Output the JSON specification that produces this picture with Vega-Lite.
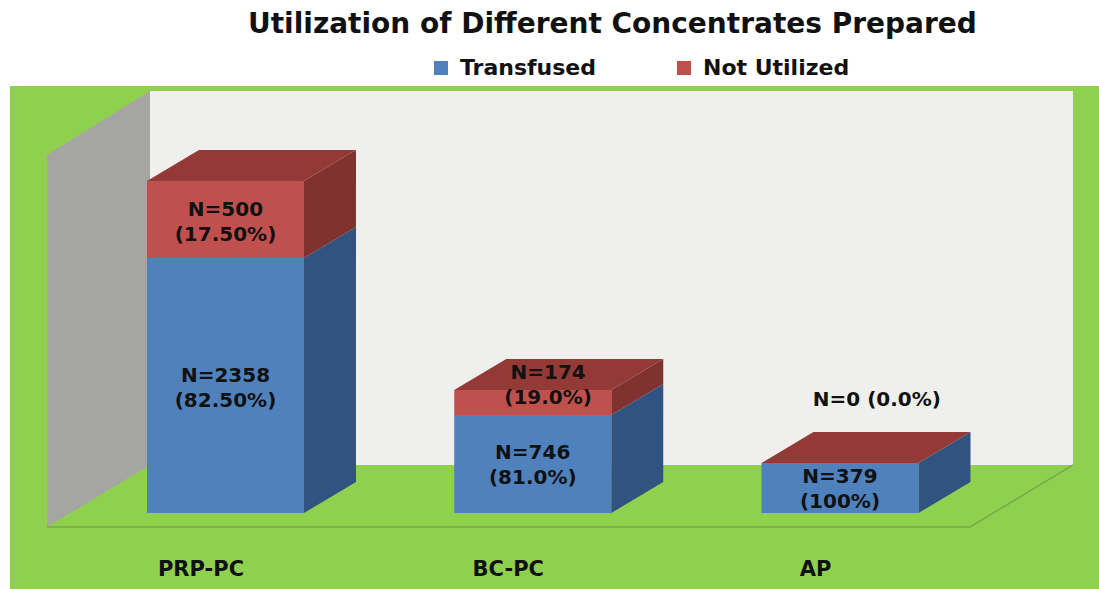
{
"$schema":"https://vega.github.io/schema/vega-lite/v6.json",
"width":1099,"height":589,"autosize":{"type":"none"},"padding":0,"background":"#ffffff",
"title":{"text":"Utilization of Different Concentrates Prepared","frame":"group","anchor":"start","orient":"top","dx":248,"offset":-39,"font":"DejaVu Sans","fontWeight":"bold","fontSize":28,"color":"#111111"},
"config":{"view":{"stroke":null}},
"datasets":{
"panel":[{"part":"background","x":0.2986,"x2":3.843,"y":-578,"y2":3245},{"part":"back wall","x":0.7543,"x2":3.7583,"y":365,"y2":3207}],
"wall":[{"x":0.419,"y":-106,"y2":2721},{"x":0.7543,"y":365,"y2":3207}],
"floor":[{"x":0.419,"y":-106},{"x":3.4235,"y":-106},{"x":3.7583,"y":365}],
"bars":[
{"cat":"PRP-PC","k":1,"series":"Transfused","x":0.7445,"x2":1.2555,"y":0,"y2":1938},
{"cat":"PRP-PC","k":1,"series":"Not Utilized","x":0.7445,"x2":1.2555,"y":1938,"y2":2523},
{"cat":"BC-PC","k":2,"series":"Transfused","x":1.7445,"x2":2.2555,"y":0,"y2":745},
{"cat":"BC-PC","k":2,"series":"Not Utilized","x":1.7445,"x2":2.2555,"y":745,"y2":935},
{"cat":"AP","k":3,"series":"Transfused","x":2.7445,"x2":3.2555,"y":0,"y2":380}
],
"sides":[
{"id":"PRP-T","series":"Transfused","x":1.2555,"y":0,"y2":1938},{"id":"PRP-T","series":"Transfused","x":1.4247,"y":236,"y2":2174},
{"id":"PRP-N","series":"Not Utilized","x":1.2555,"y":1938,"y2":2523},{"id":"PRP-N","series":"Not Utilized","x":1.4247,"y":2174,"y2":2759},
{"id":"BC-T","series":"Transfused","x":2.2555,"y":0,"y2":745},{"id":"BC-T","series":"Transfused","x":2.4247,"y":236,"y2":981},
{"id":"BC-N","series":"Not Utilized","x":2.2555,"y":745,"y2":935},{"id":"BC-N","series":"Not Utilized","x":2.4247,"y":981,"y2":1171},
{"id":"AP-T","series":"Transfused","x":3.2555,"y":0,"y2":380},{"id":"AP-T","series":"Transfused","x":3.4247,"y":236,"y2":616}
],
"tops":[
{"id":"PRP","x":0.7445,"y":2523,"y2":2523},{"id":"PRP","x":0.9137,"y":2759,"y2":2523},{"id":"PRP","x":1.2555,"y":2759,"y2":2523},{"id":"PRP","x":1.4247,"y":2759,"y2":2759},
{"id":"BC","x":1.7445,"y":935,"y2":935},{"id":"BC","x":1.9137,"y":1171,"y2":935},{"id":"BC","x":2.2555,"y":1171,"y2":935},{"id":"BC","x":2.4247,"y":1171,"y2":1171},
{"id":"AP","x":2.7445,"y":380,"y2":380},{"id":"AP","x":2.9137,"y":616,"y2":380},{"id":"AP","x":3.2555,"y":616,"y2":380},{"id":"AP","x":3.4247,"y":616,"y2":616}
],
"labels":[
{"x":1.0,"y":2304,"text":"N=500\n(17.50%)"},
{"x":1.0,"y":1038,"text":"N=2358\n(82.50%)"},
{"x":2.05,"y":1063,"text":"N=174\n(19.0%)"},
{"x":2.0,"y":453,"text":"N=746\n(81.0%)"},
{"x":3.0,"y":276,"text":"N=379\n(100%)"},
{"x":3.12,"y":860,"text":"N=0  (0.0%)"}
]
},
"encoding":{
"x":{"type":"quantitative","scale":{"domain":[0.2661,3.843],"nice":false,"zero":false},"axis":{"values":[1,2,3],"labelExpr":"datum.value===1?'PRP-PC':datum.value===2?'BC-PC':'AP'","domain":false,"ticks":false,"grid":false,"title":null,"orient":"bottom","offset":-31,"labelOffset":-25,"labelPadding":0,"labelFont":"DejaVu Sans","labelFontWeight":"bold","labelFontSize":21,"labelColor":"#111111","zindex":1}},
"y":{"type":"quantitative","scale":{"domain":[-577.6,3898.8],"nice":false,"zero":false},"axis":null}
},
"layer":[
{"data":{"name":"panel"},"transform":[{"filter":"datum.part==='background'"}],"mark":{"type":"rect","color":"#8fd14f"},"encoding":{"x":{"field":"x"},"x2":{"field":"x2"},"y":{"field":"y"},"y2":{"field":"y2"}}},
{"data":{"name":"panel"},"transform":[{"filter":"datum.part==='back wall'"}],"mark":{"type":"rect","color":"#efefee"},"encoding":{"x":{"field":"x"},"x2":{"field":"x2"},"y":{"field":"y"},"y2":{"field":"y2"}}},
{"data":{"name":"wall"},"mark":{"type":"area","color":"#a5a5a3"},"encoding":{"x":{"field":"x"},"y":{"field":"y"},"y2":{"field":"y2"}}},
{"data":{"name":"floor"},"mark":{"type":"line","color":"#77a948","strokeWidth":1.5},"encoding":{"x":{"field":"x"},"y":{"field":"y"}}},
{"data":{"name":"sides"},"transform":[{"filter":"datum.series==='Transfused'"}],"mark":{"type":"area","color":"#30547f"},"encoding":{"x":{"field":"x"},"y":{"field":"y"},"y2":{"field":"y2"},"detail":{"field":"id"}}},
{"data":{"name":"sides"},"transform":[{"filter":"datum.series==='Not Utilized'"}],"mark":{"type":"area","color":"#7f3230"},"encoding":{"x":{"field":"x"},"y":{"field":"y"},"y2":{"field":"y2"},"detail":{"field":"id"}}},
{"data":{"name":"tops"},"mark":{"type":"area","color":"#933a37"},"encoding":{"x":{"field":"x"},"y":{"field":"y"},"y2":{"field":"y2"},"detail":{"field":"id"}}},
{"data":{"name":"bars"},"mark":{"type":"rect"},"encoding":{"x":{"field":"x"},"x2":{"field":"x2"},"y":{"field":"y"},"y2":{"field":"y2"},
"color":{"field":"series","type":"nominal","scale":{"domain":["Transfused","Not Utilized"],"range":["#4f81bd","#c0504d"]},
"legend":{"title":null,"orient":"none","legendX":430,"legendY":57,"direction":"horizontal","symbolType":"square","symbolSize":196,"symbolStrokeWidth":0,"labelFont":"DejaVu Sans","labelFontWeight":"bold","labelFontSize":22,"labelColor":"#111111","columnPadding":76,"labelOffset":8,"labelLimit":240}}}},
{"data":{"name":"labels"},"mark":{"type":"text","font":"DejaVu Sans","fontWeight":"bold","fontSize":20,"color":"#111111","lineBreak":"\n","lineHeight":25,"align":"center","baseline":"middle"},"encoding":{"x":{"field":"x"},"y":{"field":"y"},"text":{"field":"text"}}}
]
}
